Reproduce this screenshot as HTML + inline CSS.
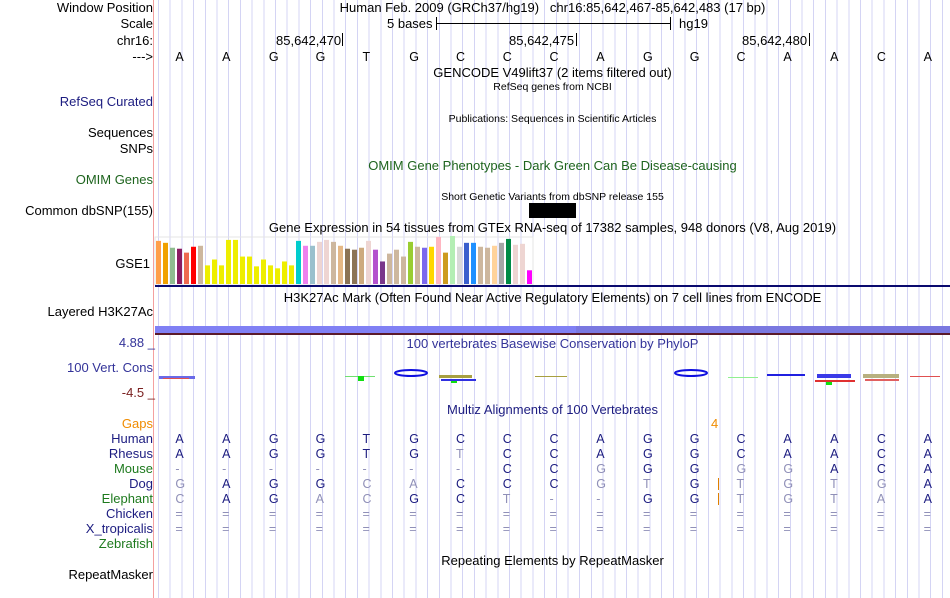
<!DOCTYPE html>
<html><head><meta charset="utf-8">
<style>
body{margin:0;width:950px;height:598px;background:#fff;overflow:hidden;position:relative;font-family:"Liberation Sans",sans-serif;font-size:13px;color:#000}
.abs{position:absolute;white-space:nowrap;line-height:14px}
.lbl{position:absolute;right:797px;white-space:nowrap;line-height:14px;text-align:right}
.ctr{position:absolute;left:155px;width:795px;text-align:center;white-space:nowrap;line-height:14px}
.sm{font-size:10.5px}
.bl{font-size:12.5px}
#grid{position:absolute;left:155px;top:0;width:795px;height:598px;background:repeating-linear-gradient(90deg,transparent 0,transparent 3px,#d4d4f4 3px,#d4d4f4 4px,transparent 4px,transparent 11.7px)}
</style></head><body>
<div id="grid"></div>
<div style="position:absolute;left:153px;top:0;width:1px;height:598px;background:#f4a0a0"></div>

<div class="lbl" style="top:1px">Window Position</div>
<div class="lbl" style="top:17px">Scale</div>
<div class="lbl" style="top:34px">chr16:</div>
<div class="lbl" style="top:50px">---&gt;</div>
<div class="ctr" style="top:1px">Human Feb. 2009 (GRCh37/hg19)&nbsp;&nbsp; chr16:85,642,467-85,642,483 (17 bp)</div>
<div class="abs" style="top:17px;left:387px">5 bases</div>
<div style="position:absolute;left:436px;top:17px;width:1px;height:13px;background:#000"></div>
<div style="position:absolute;left:436px;top:23px;width:235px;height:1px;background:#000"></div>
<div style="position:absolute;left:670px;top:17px;width:1px;height:13px;background:#000"></div>
<div class="abs" style="top:17px;left:679px">hg19</div>
<div class="abs" style="top:34px;left:276px">85,642,470</div>
<div style="position:absolute;left:342px;top:33px;width:1px;height:13px;background:#000"></div>
<div class="abs" style="top:34px;left:509px">85,642,475</div>
<div style="position:absolute;left:576px;top:33px;width:1px;height:13px;background:#000"></div>
<div class="abs" style="top:34px;left:742px">85,642,480</div>
<div style="position:absolute;left:809px;top:33px;width:1px;height:13px;background:#000"></div>
<div id="bases"></div>

<div class="ctr" style="top:66px">GENCODE V49lift37 (2 items filtered out)</div>
<div class="ctr sm" style="top:80px">RefSeq genes from NCBI</div>
<div class="lbl" style="top:95px;color:#1c1c80">RefSeq Curated</div>
<div class="ctr sm" style="top:112px">Publications: Sequences in Scientific Articles</div>
<div class="lbl" style="top:126px">Sequences</div>
<div class="lbl" style="top:142px">SNPs</div>
<div class="ctr" style="top:159px;color:#1e641e">OMIM Gene Phenotypes - Dark Green Can Be Disease-causing</div>
<div class="lbl" style="top:173px;color:#1e641e">OMIM Genes</div>
<div class="ctr sm" style="top:190px">Short Genetic Variants from dbSNP release 155</div>
<div class="lbl" style="top:204px">Common dbSNP(155)</div>
<div style="position:absolute;left:529px;top:203px;width:47px;height:15px;background:#000"></div>
<div class="ctr" style="top:221px">Gene Expression in 54 tissues from GTEx RNA-seq of 17382 samples, 948 donors (V8, Aug 2019)</div>
<div class="lbl" style="top:257px;right:800px">GSE1</div>
<svg id="gtex" style="position:absolute;left:0;top:0" width="950" height="290"></svg>
<div style="position:absolute;left:155px;top:285px;width:795px;height:2px;background:#0a0a6e"></div>
<div class="ctr" style="top:291px">H3K27Ac Mark (Often Found Near Active Regulatory Elements) on 7 cell lines from ENCODE</div>
<div class="lbl" style="top:305px">Layered H3K27Ac</div>
<div style="position:absolute;left:155px;top:326px;width:421px;height:7px;background:#8080f4"></div>
<div style="position:absolute;left:576px;top:326px;width:374px;height:7px;background:#7a78e0"></div>
<div style="position:absolute;left:155px;top:333px;width:795px;height:2px;background:#5a1a2a"></div>

<div class="lbl" style="top:336px;color:#333399;right:795px">4.88 _</div>
<div class="ctr" style="top:337px;color:#333399">100 vertebrates Basewise Conservation by PhyloP</div>
<div class="lbl" style="top:361px;color:#333399">100 Vert. Cons</div>
<div class="lbl" style="top:386px;color:#7a2020;right:795px">-4.5 _</div>
<svg style="position:absolute;left:0;top:360px" width="950" height="30">
<rect x="159" y="16" width="36" height="3" fill="#6a6ae8"/><rect x="163" y="18" width="26" height="1" fill="#e05050"/>
<rect x="345" y="16" width="30" height="1" fill="#70e070"/><rect x="358" y="16" width="6" height="5" fill="#10e010"/>
<ellipse cx="411" cy="13" rx="16" ry="3" fill="none" stroke="#1010e0" stroke-width="2"/>
<rect x="439" y="15" width="33" height="3" fill="#a8a040"/><rect x="441" y="19" width="35" height="2" fill="#3030e0"/><rect x="451" y="21" width="6" height="2" fill="#10e010"/>
<rect x="535" y="16" width="32" height="1" fill="#a8a040"/>
<ellipse cx="691" cy="13" rx="16" ry="3" fill="none" stroke="#1010e0" stroke-width="2"/>
<rect x="728" y="17" width="30" height="1" fill="#90f090"/>
<rect x="767" y="14" width="38" height="2" fill="#2020e0"/>
<rect x="817" y="14" width="34" height="4" fill="#3a3ae8"/><rect x="815" y="20" width="40" height="2" fill="#e03030"/><rect x="826" y="22" width="6" height="3" fill="#10e010"/>
<rect x="863" y="14" width="36" height="4" fill="#b8b080"/><rect x="865" y="19" width="34" height="2" fill="#e06060"/>
<rect x="910" y="16" width="30" height="1" fill="#e05050"/>
</svg>

<div class="ctr" style="top:403px;color:#1c1c80">Multiz Alignments of 100 Vertebrates</div>
<div class="lbl" style="top:417px;color:#f08c00">Gaps</div>
<div class="abs" style="top:417px;left:711px;color:#f08c00">4</div>
<div id="align"></div>
<div class="ctr" style="top:554px">Repeating Elements by RepeatMasker</div>
<div class="lbl" style="top:568px">RepeatMasker</div>

<script>
const bases = "AAGGTGCCCAGGCAACA".split("");
const species = ["Human","Rhesus","Mouse","Dog","Elephant","Chicken","X_tropicalis","Zebrafish"];
const speciesSeqs = ["AAGGTGCCCAGGCAACA","AAGGTGTCCAGGCAACA","-------CCGGGGGACA","GAGGCACCCGTGTGTGA","CAGACGCT--GGTGTAA","=================","=================",""];
const gtexValues = [44,42,37,36,32,38,39,19,25,19,45,45,28,28,18,25,19,16,23,19,44,39,39,43,45,43,39,36,35,37,44,35,23,31,35,28,43,38,37,38,48,32,49,38,42,42,38,37,39,42,46,40,41,14];
const gtexColors = ["#ff9f4a","#f0a000","#8fbc8f","#8b1c62","#ee6a50","#ff0000","#cdb79e","#eeee00","#eeee00","#eeee00","#eeee00","#eeee00","#eeee00","#eeee00","#eeee00","#eeee00","#eeee00","#eeee00","#eeee00","#eeee00","#00cdcd","#ee82ee","#9ac0cd","#eed5d2","#eed5d2","#cdb79e","#e5b886","#8b7355","#8b7355","#cdaa7d","#eed5d2","#b452cd","#7a378b","#cdb79e","#cdb79e","#cdb79e","#9acd32","#cdb79e","#7b68ee","#ffd700","#ffb6c1","#cd9b1d","#b4eeb4","#d9d9d9","#3a5fcd","#1e90ff","#cdb79e","#cdb79e","#ffd39b","#a6a6a6","#008b45","#eed5d2","#eed5d2","#ff00ff"];

const x0 = 155, bw = 795/17;
const baseX = i => x0 + bw*i + bw/2;
const bc = document.getElementById('bases');
bases.forEach((b,i)=>{
  const d=document.createElement('div');
  
  
  d.className='abs bl'; d.style.top='50px'; d.style.left=(baseX(i)-3)+'px'; d.textContent=b; bc.appendChild(d);
});

const svg=document.getElementById('gtex'), NS='http://www.w3.org/2000/svg';
const gBase=284, gScale=49/50, gBarW=7, gX0=155;
const frame=document.createElementNS(NS,'rect');
frame.setAttribute('x',gX0);frame.setAttribute('y',237);frame.setAttribute('width',gtexValues.length*gBarW);frame.setAttribute('height',48);
frame.setAttribute('fill','none');frame.setAttribute('stroke','#e4e4e4');
svg.appendChild(frame);
gtexValues.forEach((v,i)=>{
  const r=document.createElementNS(NS,'rect');
  
  
  const h=v*gScale;
  r.setAttribute('x',gX0+i*gBarW+1);r.setAttribute('y',gBase-h);r.setAttribute('width',gBarW-2);r.setAttribute('height',h);
  r.setAttribute('fill',gtexColors[i]);svg.appendChild(r);
});

const al=document.getElementById('align');
const green=["Mouse","Elephant","Zebrafish"];
species.forEach((s,k)=>{
  const y=432+k*15;
  const l=document.createElement('div');
  
  
  l.className='lbl'; l.style.top=y+'px'; l.style.color=green.includes(s)?'#1e7a1e':'#1c1c80'; l.textContent=s; al.appendChild(l);
  speciesSeqs[k].split("").forEach((c,i)=>{
    const d=document.createElement('div');
    
    
    d.className='abs bl'; d.style.top=y+'px'; d.style.left=(baseX(i)-3)+'px';
    const match = (k===0) || c===bases[i];
    d.style.color = match ? '#1c1c80' : '#9090b8';
    d.textContent=c; al.appendChild(d);
  });
});
[484,499].forEach(y=>{
  const d=document.createElement('div');
  
  
  d.style.cssText='position:absolute;left:718px;top:'+(y-6)+'px;width:1px;height:12px;background:#e08000';
  al.appendChild(d);
});
</script>
</body></html>
